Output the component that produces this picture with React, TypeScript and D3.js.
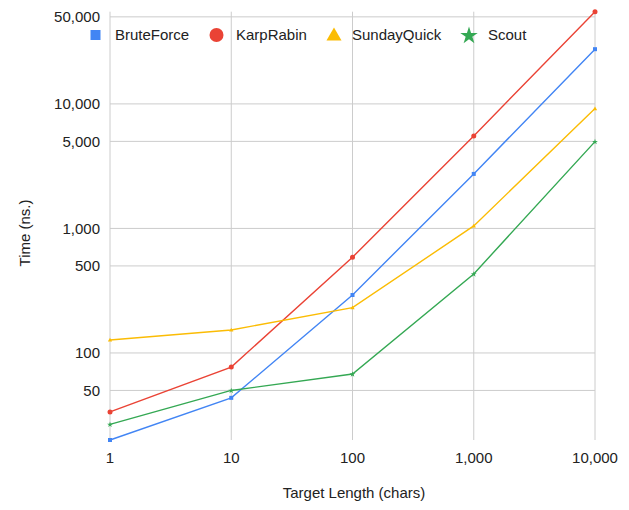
import React from "react";
import * as d3 from "d3";

const targetLengths = [1, 10, 100, 1000, 10000];
const bruteForce = [20, 43.6, 292, 2740, 27500];
const karpRabin = [33.6, 77, 587, 5530, 55000];
const sundayQuick = [127, 153, 231, 1047, 9170];
const scout = [26.7, 50, 67.8, 431, 4980];
const seriesNames = ["BruteForce", "KarpRabin", "SundayQuick", "Scout"];
const seriesColors = ["#4285F4", "#EA4335", "#FBBC04", "#34A853"];
const yTicks = [50, 100, 500, 1000, 5000, 10000, 50000];
const xTicks = [1, 10, 100, 1000, 10000];

const W = 629;
const H = 510;
const FONT = "Arial, 'Liberation Sans', sans-serif";
const FS = 15;

function Marker({ kind, x, y, size, color }: { kind: number; x: number; y: number; size: number; color: string }) {
  if (kind === 0) return <rect x={x - size / 2} y={y - size / 2} width={size} height={size} fill={color} />;
  if (kind === 1) return <circle cx={x} cy={y} r={size / 2} fill={color} />;
  if (kind === 2) {
    const s = d3.symbol(d3.symbolTriangle, size * size * 0.5)();
    return <path d={s || ""} transform={`translate(${x},${y + size * 0.08})`} fill={color} />;
  }
  const s = d3.symbol(d3.symbolStar, size * size * 0.42)();
  return <path d={s || ""} transform={`translate(${x},${y + size * 0.05})`} fill={color} />;
}

export default function App() {
  const x = d3.scaleLog().domain([1, 10000]).range([110, 595]);
  const y = d3.scaleLog().domain([20, 55000]).range([440, 11.7]);
  const fmt = d3.format(",");
  const all = [bruteForce, karpRabin, sundayQuick, scout];
  const line = d3
    .line<number>()
    .x((_, i) => x(targetLengths[i]))
    .y((d) => y(d));
  const legendX = [95.5, 216.5, 334, 469];
  const legendTextX = [115, 236, 352, 488];
  const legendMarkerSize = [10, 14, 14, 15];
  const pointSize = [4, 5, 4, 5];
  return (
    <svg width={W} height={H} style={{ position: "absolute", left: 0, top: 0, background: "#fff" }} fontFamily={FONT}>
      <rect width={W} height={H} fill="#fff" />
      {yTicks.map((t) => (
        <g key={"y" + t}>
          <line x1={110} x2={595} y1={y(t)} y2={y(t)} stroke="#cccccc" strokeWidth={1} />
          <text x={100} y={y(t)} dy="0.35em" textAnchor="end" fontSize={FS} fill="#222">
            {fmt(t)}
          </text>
        </g>
      ))}
      {xTicks.map((t) => (
        <g key={"x" + t}>
          <line x1={x(t)} x2={x(t)} y1={11.7} y2={440} stroke="#cccccc" strokeWidth={1} />
          <text x={x(t)} y={462.5} textAnchor="middle" fontSize={FS} fill="#222">
            {fmt(t)}
          </text>
        </g>
      ))}
      {all.map((s, k) => (
        <g key={"s" + k}>
          <path d={line(s) || ""} fill="none" stroke={seriesColors[k]} strokeWidth={1.4} />
          {s.map((v, i) => (
            <Marker key={i} kind={k} x={x(targetLengths[i])} y={y(v)} size={pointSize[k]} color={seriesColors[k]} />
          ))}
        </g>
      ))}
      {seriesNames.map((n, k) => (
        <g key={"l" + n}>
          <Marker kind={k} x={legendX[k]} y={35} size={legendMarkerSize[k]} color={seriesColors[k]} />
          <text x={legendTextX[k]} y={35} dy="0.35em" fontSize={FS} fill="#222">
            {n}
          </text>
        </g>
      ))}
      <text transform={`translate(30,233) rotate(-90)`} textAnchor="middle" fontSize={FS} fill="#222">
        Time (ns.)
      </text>
      <text x={354} y={498} textAnchor="middle" fontSize={FS} fill="#222">
        Target Length (chars)
      </text>
    </svg>
  );
}
